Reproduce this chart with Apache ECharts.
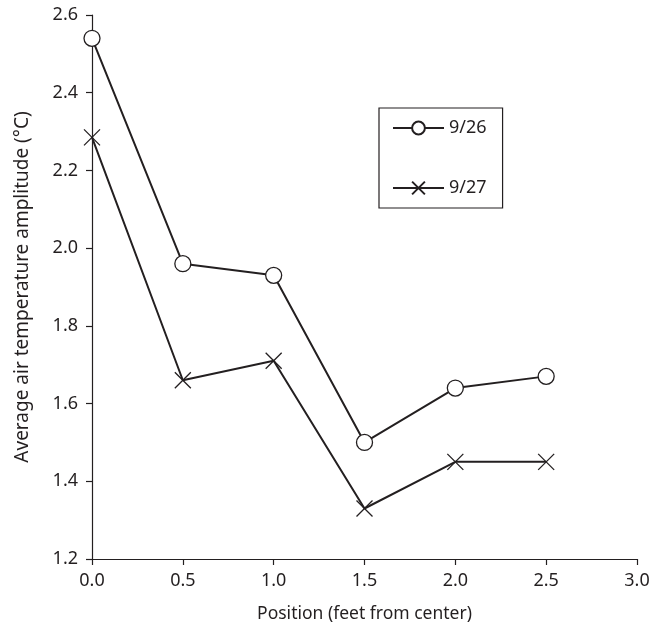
<!DOCTYPE html>
<html>
<head>
<meta charset="utf-8">
<script src="https://cdn.jsdelivr.net/npm/echarts@6/dist/echarts.min.js"></script>
<style>
  html, body { margin: 0; padding: 0; background: #fff; }
  #chart { width: 665px; height: 630px; }
</style>
</head>
<body>
<div id="chart"></div>
<script>
// Position from center (feet)
const positions = [0.0, 0.5, 1.0, 1.5, 2.0, 2.5];
// Average air temperature amplitude (°C) per day
const amp0926 = [2.54, 1.96, 1.93, 1.50, 1.64, 1.67];
const amp0927 = [2.285, 1.66, 1.71, 1.33, 1.45, 1.45];
const seriesNames = ['9/26', '9/27'];

const ink = '#231f20';
const font = 'Noto Sans';
const crossPath = 'path://M0,0L10,10M10,0L0,10';

const pairs = (xs, ys) => xs.map((x, i) => [x, ys[i]]);

const chart = echarts.init(document.getElementById('chart'), null, { renderer: 'canvas' });
chart.setOption({
  animation: false,
  backgroundColor: '#fff',
  textStyle: { fontFamily: font, color: ink },
  grid: { left: 92, right: 28, top: 15, bottom: 71, containLabel: false },
  legend: {
    orient: 'vertical',
    left: 379,
    top: 108,
    data: seriesNames,
    itemWidth: 51,
    itemHeight: 16,
    itemGap: 42,
    padding: [11, 16, 11, 13],
    borderColor: ink,
    borderWidth: 1.2,
    textStyle: { fontFamily: font, fontSize: 18, color: ink }
  },
  xAxis: {
    type: 'value',
    min: 0,
    max: 3,
    interval: 0.5,
    name: 'Position (feet from center)',
    nameLocation: 'middle',
    nameGap: 46,
    nameTextStyle: { fontFamily: font, fontSize: 17.5, color: ink },
    axisLine: { show: true, lineStyle: { color: ink, width: 1.2 } },
    axisTick: { show: true, inside: false, length: 6, lineStyle: { color: ink, width: 1.2 } },
    axisLabel: { margin: 13, fontFamily: font, fontSize: 18, color: ink, formatter: v => v.toFixed(1) },
    splitLine: { show: false }
  },
  yAxis: {
    type: 'value',
    min: 1.2,
    max: 2.6,
    interval: 0.2,
    name: 'Average air temperature amplitude (°C)',
    nameLocation: 'middle',
    nameGap: 60,
    nameTextStyle: { fontFamily: font, fontSize: 19, color: ink },
    axisLine: { show: true, lineStyle: { color: ink, width: 1.2 } },
    axisTick: { show: true, inside: false, length: 6, lineStyle: { color: ink, width: 1.2 } },
    axisLabel: { margin: 14, fontFamily: font, fontSize: 18, color: ink, formatter: v => v.toFixed(1) },
    splitLine: { show: false }
  },
  series: [
    {
      name: seriesNames[0],
      type: 'line',
      data: pairs(positions, amp0926),
      symbol: 'circle',
      symbolSize: 16,
      showAllSymbol: true,
      lineStyle: { color: ink, width: 2 },
      itemStyle: { color: '#fff', borderColor: ink, borderWidth: 1.3 }
    },
    {
      name: seriesNames[1],
      type: 'line',
      data: pairs(positions, amp0927),
      symbol: crossPath,
      symbolSize: 16,
      showAllSymbol: true,
      lineStyle: { color: ink, width: 2 },
      itemStyle: { color: 'none', borderColor: ink, borderWidth: 1.3 }
    }
  ]
});
</script>
</body>
</html>
